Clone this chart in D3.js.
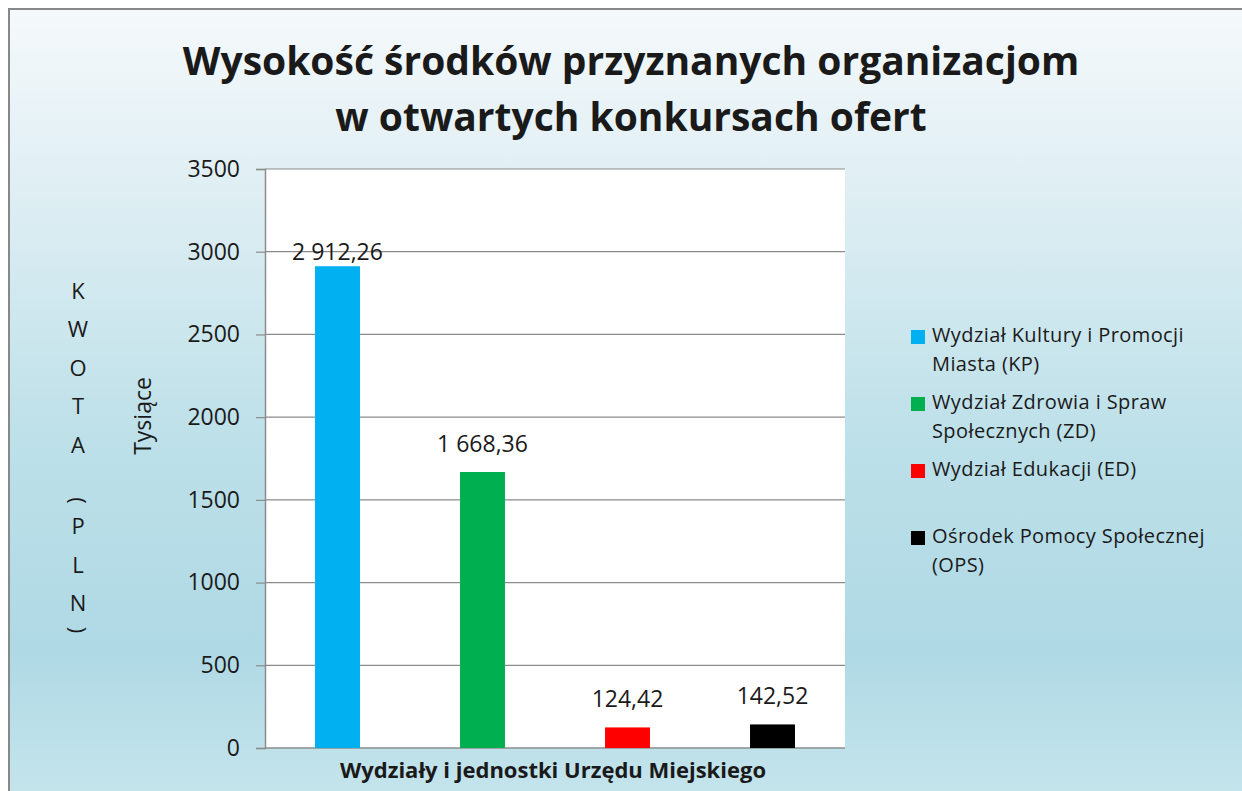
<!DOCTYPE html>
<html>
<head>
<meta charset="utf-8">
<script src="https://cdn.jsdelivr.net/npm/d3@7"></script>
<style>
  html, body { margin: 0; padding: 0; background: #fff; }
  svg { display: block; }
  text { font-family: "Open Sans", sans-serif; fill: #1a1a1a; }
</style>
</head>
<body>
<div id="chart"></div>
<script>
const w = 1242, h = 791;

// data
const categories = ['KP', 'ZD', 'ED', 'OPS'];
const values = [2912.26, 1668.36, 124.42, 142.52];
const valueLabels = ['2 912,26', '1 668,36', '124,42', '142,52'];
const colors = ['#00b0f0', '#00b050', '#ff0000', '#000000'];
const legendLines = [
  ['Wydział Kultury i Promocji', 'Miasta (KP)'],
  ['Wydział Zdrowia i Spraw', 'Społecznych (ZD)'],
  ['Wydział Edukacji (ED)'],
  ['Ośrodek Pomocy Społecznej', '(OPS)']
];
const yTicks = [0, 500, 1000, 1500, 2000, 2500, 3000, 3500];
const titleLines = ['Wysokość środków przyznanych organizacjom', 'w otwartych konkursach ofert'];
const xTitle = 'Wydziały i jednostki Urzędu Miejskiego';
const yTitle = 'Tysiące';
const unitTitle = 'KWOTA (PLN)';

const plot = {left: 265, right: 845, top: 169, bottom: 748};

const svg = d3.select('#chart')
  .append('svg')
  .attr('width', w)
  .attr('height', h);

// background gradient
const defs = svg.append('defs');
const grad = defs.append('linearGradient')
  .attr('id', 'bg')
  .attr('x1', 0).attr('y1', 0).attr('x2', 0).attr('y2', 1);
[['0%', '#f5f9fb'], ['22%', '#e0eff4'], ['55%', '#bde0e9'], ['82%', '#afd9e5'], ['100%', '#c4e4ec']]
  .forEach(s => grad.append('stop').attr('offset', s[0]).attr('stop-color', s[1]));

svg.append('rect')
  .attr('x', 9).attr('y', 9)
  .attr('width', w - 9).attr('height', h - 9)
  .attr('fill', 'url(#bg)');

// border only on top and left
svg.append('path')
  .attr('d', `M9,${h} V9 H${w}`)
  .attr('fill', 'none')
  .attr('stroke', '#888')
  .attr('stroke-width', 2);

// plot area
svg.append('rect')
  .attr('x', plot.left).attr('y', plot.top)
  .attr('width', plot.right - plot.left)
  .attr('height', plot.bottom - plot.top)
  .attr('fill', '#fff');

const xScale = d3.scaleBand()
  .domain(categories)
  .range([plot.left, plot.right])
  .paddingInner(0.69)
  .paddingOuter(0.345);

const yScale = d3.scaleLinear()
  .domain([0, 3500])
  .range([plot.bottom, plot.top]);

// gridlines
svg.append('g')
  .selectAll('line')
  .data(yTicks.filter(d => d > 0))
  .enter()
  .append('line')
  .attr('x1', plot.left).attr('x2', plot.right)
  .attr('y1', d => yScale(d)).attr('y2', d => yScale(d))
  .attr('stroke', '#8c8c8c')
  .attr('stroke-width', 1.2);

// y axis
const yAxis = d3.axisLeft(yScale)
  .tickValues(yTicks)
  .tickSize(9)
  .tickPadding(16)
  .tickFormat(d3.format('d'));

const yG = svg.append('g')
  .attr('transform', `translate(${plot.left}, 0)`)
  .call(yAxis);
yG.select('.domain').attr('stroke', '#8c8c8c').attr('stroke-width', 1.5);
yG.selectAll('.tick line').attr('stroke', '#8c8c8c').attr('stroke-width', 1.2);
yG.selectAll('.tick text')
  .style('font-family', '"Open Sans", sans-serif')
  .style('font-size', '23px')
  .attr('fill', '#1a1a1a');

// x axis baseline
svg.append('line')
  .attr('x1', plot.left).attr('x2', plot.right)
  .attr('y1', plot.bottom).attr('y2', plot.bottom)
  .attr('stroke', '#8c8c8c')
  .attr('stroke-width', 1.5);

// bars
svg.append('g')
  .selectAll('rect')
  .data(values)
  .enter()
  .append('rect')
  .attr('x', (d, i) => xScale(categories[i]))
  .attr('y', d => yScale(d))
  .attr('width', xScale.bandwidth())
  .attr('height', d => plot.bottom - yScale(d))
  .attr('fill', (d, i) => colors[i]);

// value labels (the tallest one sits closer to its bar, as in the source)
svg.append('g')
  .selectAll('text')
  .data(values)
  .enter()
  .append('text')
  .attr('x', (d, i) => xScale(categories[i]) + xScale.bandwidth() / 2)
  .attr('y', d => Math.max(yScale(d) - 20, yScale(3000) + 8))
  .attr('text-anchor', 'middle')
  .style('font-size', '23px')
  .text((d, i) => valueLabels[i]);

// title
svg.append('g')
  .selectAll('text')
  .data(titleLines)
  .enter()
  .append('text')
  .attr('x', 631)
  .attr('y', (d, i) => 75 + i * 56)
  .attr('text-anchor', 'middle')
  .style('font-size', '39px')
  .style('font-weight', 'bold')
  .attr('fill', '#000')
  .text(d => d);

// x axis title
svg.append('text')
  .attr('x', (plot.left + plot.right) / 2 - 2)
  .attr('y', 778)
  .attr('text-anchor', 'middle')
  .style('font-size', '22px')
  .style('font-weight', 'bold')
  .text(xTitle);

// y axis title (rotated)
svg.append('text')
  .attr('transform', 'translate(151, 416) rotate(-90)')
  .attr('text-anchor', 'middle')
  .style('font-size', '23px')
  .text(yTitle);

// stacked letters "KWOTA (PLN)"
let cy = 272;
const stack = svg.append('g');
unitTitle.split('').forEach(ch => {
  let step = 38.5;
  if (ch === ' ') { cy += 29; return; }
  if (ch === '(' || ch === ')') step = 14;
  const c = cy + step / 2;
  const t = stack.append('text')
    .attr('text-anchor', 'middle')
    .style('font-size', '22px')
    .text(ch);
  if (step === 14) {
    t.attr('transform', `translate(78, ${c}) rotate(90)`).attr('dy', '0.35em');
  } else {
    t.attr('x', 78).attr('y', c).attr('dy', '0.35em');
  }
  cy += step;
});

// legend
const legend = svg.append('g').attr('transform', 'translate(911, 342)');
const item = legend.selectAll('g')
  .data(legendLines)
  .enter()
  .append('g')
  .attr('transform', (d, i) => `translate(0, ${i * 67})`);

item.append('rect')
  .attr('x', 0).attr('y', -12)
  .attr('width', 14).attr('height', 14)
  .attr('fill', (d, i) => colors[i]);

item.selectAll('text')
  .data(d => d)
  .enter()
  .append('text')
  .attr('x', 21)
  .attr('y', (d, j) => j * 28.5)
  .style('font-size', '20px')
  .style('letter-spacing', '0.4px')
  .text(d => d);
</script>
</body>
</html>
